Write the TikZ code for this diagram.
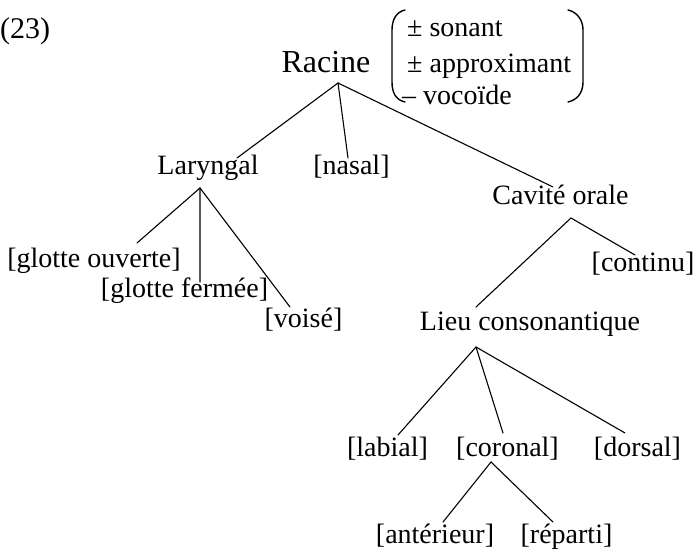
\documentclass[tikz,border=0pt]{standalone}
\usepackage{fontspec}
\setmainfont{Liberation Serif}
\begin{document}
\begin{tikzpicture}[x=1bp,y=-1bp,
  lbl/.style={anchor=base,inner sep=0pt,font=\fontsize{28bp}{30bp}\selectfont},
  feat/.style={anchor=base west,inner sep=0pt,font=\fontsize{28bp}{30bp}\selectfont},
  edge/.style={line width=1.1bp,line cap=round},
  paren/.style={line width=1.4bp,line cap=round}]
\useasboundingbox (0,0) rectangle (696,553);
% number
\node[anchor=base west,inner sep=0pt,font=\fontsize{30bp}{32bp}\selectfont] (num) at (0,39) {(23)};
% nodes
\node[lbl,font=\fontsize{32bp}{34bp}\selectfont] (racine) at (326,73) {Racine};
\node[feat] (f1) at (407,37) {± sonant};
\node[feat] (f2) at (407,73) {± approximant};
\node[feat] (f3) at (402,105) {– vocoïde};
\draw[paren] (405,10) .. controls (396,12) and (392,20) .. (392,30) -- (392,82) .. controls (392,93) and (396,100) .. (405,102);
\draw[paren] (568,10) .. controls (577,12) and (583,20) .. (583,30) -- (583,82) .. controls (583,93) and (577,100) .. (568,102);
\node[lbl] (laryngal) at (208,175) {Laryngal};
\node[lbl] (nasal) at (351.5,175) {[nasal]};
\node[lbl] (cavite) at (560.5,205) {Cavité orale};
\node[lbl] (gouv) at (94,268) {[glotte ouverte]};
\node[lbl] (gferm) at (184.5,297) {[glotte fermée]};
\node[lbl] (voise) at (303.5,327) {[voisé]};
\node[lbl] (continu) at (643,272) {[continu]};
\node[lbl] (lieu) at (530,330) {Lieu consonantique};
\node[lbl] (labial) at (387.5,456) {[labial]};
\node[lbl] (coronal) at (507.5,456) {[coronal]};
\node[lbl] (dorsal) at (637.5,456) {[dorsal]};
\node[lbl] (anter) at (435,543) {[antérieur]};
\node[lbl] (reparti) at (566.5,543) {[réparti]};
% connectors
\draw[edge] ([xshift=29bp,yshift=17bp]laryngal.base) -- ([xshift=12bp,yshift=-10bp]racine.base) -- ([xshift=-7.5bp,yshift=18bp]cavite.base);
\draw[edge] ([xshift=12bp,yshift=-10bp]racine.base) -- ([xshift=-3.5bp,yshift=17bp]nasal.base);
\draw[edge] ([xshift=43bp,yshift=25bp]gouv.base) -- ([xshift=-8bp,yshift=-13bp]laryngal.base) -- ([xshift=-13.5bp,yshift=20bp]voise.base);
\draw[edge] ([xshift=-8bp,yshift=-13bp]laryngal.base) -- ([xshift=15.5bp,yshift=15bp]gferm.base);
\draw[edge] ([xshift=-54bp,yshift=23bp]lieu.base) -- ([xshift=10.5bp,yshift=-13bp]cavite.base) -- ([xshift=-8bp,yshift=17bp]continu.base);
\draw[edge] ([xshift=10.5bp,yshift=21bp]labial.base) -- ([xshift=-54bp,yshift=-17bp]lieu.base) -- ([xshift=-12.5bp,yshift=23bp]dorsal.base);
\draw[edge] ([xshift=-54bp,yshift=-17bp]lieu.base) -- ([xshift=-4.5bp,yshift=23bp]coronal.base);
\draw[edge] ([xshift=8bp,yshift=21bp]anter.base) -- ([xshift=-16.5bp,yshift=-6bp]coronal.base) -- ([xshift=-13.5bp,yshift=21bp]reparti.base);
\end{tikzpicture}
\end{document}
